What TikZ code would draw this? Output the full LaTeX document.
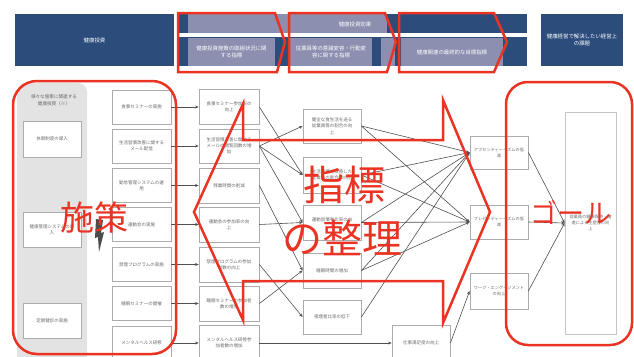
\documentclass[tikz,border=0pt]{standalone}
\usepackage{fontspec}
\setmainfont{Noto Sans CJK JP}
\usetikzlibrary{arrows.meta}
\XeTeXlinebreaklocale "ja"
\XeTeXlinebreakskip=0pt plus 1pt
\definecolor{hblue}{HTML}{2C4D7C}
\definecolor{hlight}{HTML}{8C8FB0}
\definecolor{panelgray}{HTML}{E3E3E3}
\definecolor{boxgray}{HTML}{ABABAB}
\definecolor{txtgray}{HTML}{6A6A6A}
\definecolor{linegray}{HTML}{505050}
\definecolor{redmark}{HTML}{EA3323}
\definecolor{goalgray}{HTML}{C4C4C4}
\begin{document}
\begin{tikzpicture}[x=1pt,y=-1pt,
  hdrtext/.style={text=white, font=\fontsize{5.4}{7}\selectfont, align=center, inner sep=0},
  box/.style={draw=boxgray, fill=white, line width=0.8pt, inner sep=1pt, align=center,
    font=\fontsize{4.5}{6.2}\selectfont, text=txtgray},
  boxA/.style={box, minimum width=58pt, minimum height=35pt},
  boxB/.style={box, minimum width=59pt, minimum height=34pt},
  boxC/.style={box, minimum width=60pt, minimum height=35pt},
  boxD/.style={box, minimum width=58pt, minimum height=35pt},
  boxE/.style={box, minimum width=58pt, minimum height=34pt, font=\fontsize{4.2}{6}\selectfont},
  conn/.style={-{Stealth[length=3.5pt,width=3pt]}, line width=0.6pt, draw=linegray},
  redline/.style={draw=redmark, line width=2.5pt, line join=miter},
  redtext/.style={text=redmark, inner sep=0}]
\clip (0,0) rectangle (634,356);
\fill[white] (0,0) rectangle (634,356);

% ---------- header ----------
\fill[hblue] (15,14) rectangle (174,66);
\fill[hblue] (178,14) rectangle (527,33);
\fill[hblue] (178,37) rectangle (527,66);
\fill[hlight] (188,14) rectangle (387,33);
\fill[hlight] (188,38) rectangle (275,66);
\fill[hlight] (290,38) rectangle (372,66);
\fill[hlight] (381,38) rectangle (395,66);
\fill[hlight] (401,38) rectangle (503,66);
\fill[hblue] (541,14) rectangle (623,66);
\node[hdrtext] (h1) at (94.5,40) {健康投資};
\node[hdrtext] (h2) at (355,24) {健康投資効果};
\node[hdrtext] (h3) at (231.5,52) {健康投資施策の取組状況に関\\する指標};
\node[hdrtext] (h4) at (331,52) {従業員等の意識変容・行動変\\容に関する指標};
\node[hdrtext] (h5) at (452,52) {健康関連の最終的な目標指標};
\node[hdrtext] (h6) at (582,40) {健康経営で解決したい経営上\\の課題};

% ---------- left panel ----------
\fill[panelgray, rounded corners=9pt] (17,83) rectangle (87,372);
\node[inner sep=0, align=center, font=\fontsize{4.6}{7}\selectfont, text=txtgray] (ptitle) at (54,100.5)
  {様々な施策に関連する\\健康投資（※）};
\node[boxA, minimum height=36pt] (a1) at (52,139) {休暇制度の導入};
\node[boxA] (a2) at (52,229.5) {健康管理システムの導\\入};
\node[boxA] (a3) at (52,320.5) {定期健診の実施};

% ---------- column 2 ----------
\node[boxB] (b1) at (141.5,107) {食事セミナーの実施};
\node[boxB] (b2) at (141.5,146) {生活習慣改善に関する\\メール配信};
\node[boxB] (b3) at (141.5,185.5) {勤怠管理システムの運\\用};
\node[boxB] (b4) at (141.5,224.5) {運動会の実施};
\node[boxB] (b5) at (141.5,264.5) {禁煙プログラムの実施};
\node[boxB] (b6) at (141.5,303.5) {睡眠セミナーの開催};
\node[boxB] (b7) at (141.5,343) {メンタルヘルス研修};

% ---------- column 3 ----------
\node[boxC] (c1) at (229,107) {食事セミナー参加率の\\向上};
\node[boxC, minimum height=34pt] (c2) at (229,146) {生活習慣改善に関する\\メールの閲覧回数の増\\加};
\node[boxC] (c3) at (229,185.5) {残業時間の削減};
\node[boxC] (c4) at (229,224.5) {運動会の参加率の向\\上};
\node[boxC] (c5) at (229,264.5) {禁煙プログラムの参加\\者数の向上};
\node[boxC] (c6) at (229,303.5) {睡眠セミナーの参加者\\数の増加};
\node[boxC] (c7) at (229,343) {メンタルヘルス研修参\\加者数の増加};

% ---------- column 4 ----------
\node[boxD, minimum height=34pt] (d1) at (332,126) {健全な食生活を送る\\従業員等の割合の向\\上};
\node[boxD, minimum height=36pt] (d2) at (332,175) {生活習慣を改善した\\従業員の割合の向上};
\node[boxD] (d3) at (332,222.5) {運動習慣者比率の向\\上};
\node[boxD] (d4) at (332,270.5) {睡眠時間の増加};
\node[boxD, minimum height=34pt] (d5) at (332,317) {喫煙者比率の低下};
\node[boxD, minimum height=36pt] (f) at (421,343) {仕事満足度の向上};

% ---------- column 5 ----------
\node[boxE, minimum height=33pt] (e1) at (499,152.5) {アブセンティーイズムの低\\減};
\node[boxE] (e2) at (499,222) {プレゼンティーイズムの低\\減};
\node[boxE, minimum height=36pt] (e3) at (499,291) {ワーク・エンゲイジメント\\の向上};

% ---------- goal ----------
\node[box, draw=goalgray, minimum width=51pt, minimum height=222pt,
  font=\fontsize{4.2}{6}\selectfont] (g) at (590.5,223)
  {従業員の健康保持・増\\進による生産性の向\\上};

% ---------- connectors ----------
\foreach \i in {1,...,7} { \draw[conn] (b\i.east) -- (c\i.west); }
\draw[conn] (c1.east) -- (d2.west);
\draw[conn] (c2.east) -- (d1.west);
\draw[conn] (c2.east) -- (d2.west);
\draw[conn] (c2.east) -- (d3.west);
\draw[conn] (c3.east) -- (d4.west);
\draw[conn] (c4.east) -- (d3.west);
\draw[conn] (c5.east) -- (d5.west);
\draw[conn] (c6.east) -- (d4.west);
\draw[conn] (c7.east) -- (f.west);
\draw[conn] (d1.east) -- (e1.west);
\draw[conn] (d1.east) -- (e2.west);
\draw[conn] (d2.east) -- (e1.west);
\draw[conn] (d2.east) -- (e2.west);
\draw[conn] (d3.east) -- (e1.west);
\draw[conn] (d3.east) -- (e2.west);
\draw[conn] (d4.east) -- (e1.west);
\draw[conn] (d4.east) -- (e2.west);
\draw[conn] (d5.east) -- (e1.west);
\draw[conn] (f.east) -- (e3.west);
\draw[conn] (e1.east) -- (g.west);
\draw[conn] (e2.east) -- (g.west);
\draw[conn] (e3.east) -- (g.west);

% ---------- dark mark ----------
\fill[black!70] (96,219) -- (103,220) -- (101,233) -- (104,232) -- (99,252) -- (98,237) -- (95,238) -- cycle;

% ---------- red overlays ----------
\draw[redline] (178,13) -- (275,13) -- (285,42) -- (277,72) -- (178,72) -- cycle;
\draw[redline] (289,13) -- (385,13) -- (396,42) -- (387,72) -- (289,72) -- cycle;
\draw[redline] (399,13) -- (494,13) -- (507,42) -- (494,72) -- (399,72) -- cycle;
\draw[redline, rounded corners=24pt] (13,81) rectangle (176,354);
\draw[redline, rounded corners=22pt] (506,82) rectangle (632,345);
\draw[redline] (194,212) -- (243,104) -- (243,140) -- (443,140) -- (443,100) -- (490,212)
  -- (443,323) -- (443,281) -- (243,281) -- (243,320) -- cycle;
\node[redtext, font=\fontsize{34}{34}\selectfont] (t1) at (94,218) {施策};
\node[redtext, font=\fontsize{41}{41}\selectfont] (t2) at (344,185) {指標};
\node[redtext, font=\fontsize{40}{40}\selectfont] (t3) at (342,238) {の整理};
\node[redtext, font=\fontsize{27}{27}\selectfont] (t4) at (571,212) {ゴール};
\end{tikzpicture}
\end{document}
